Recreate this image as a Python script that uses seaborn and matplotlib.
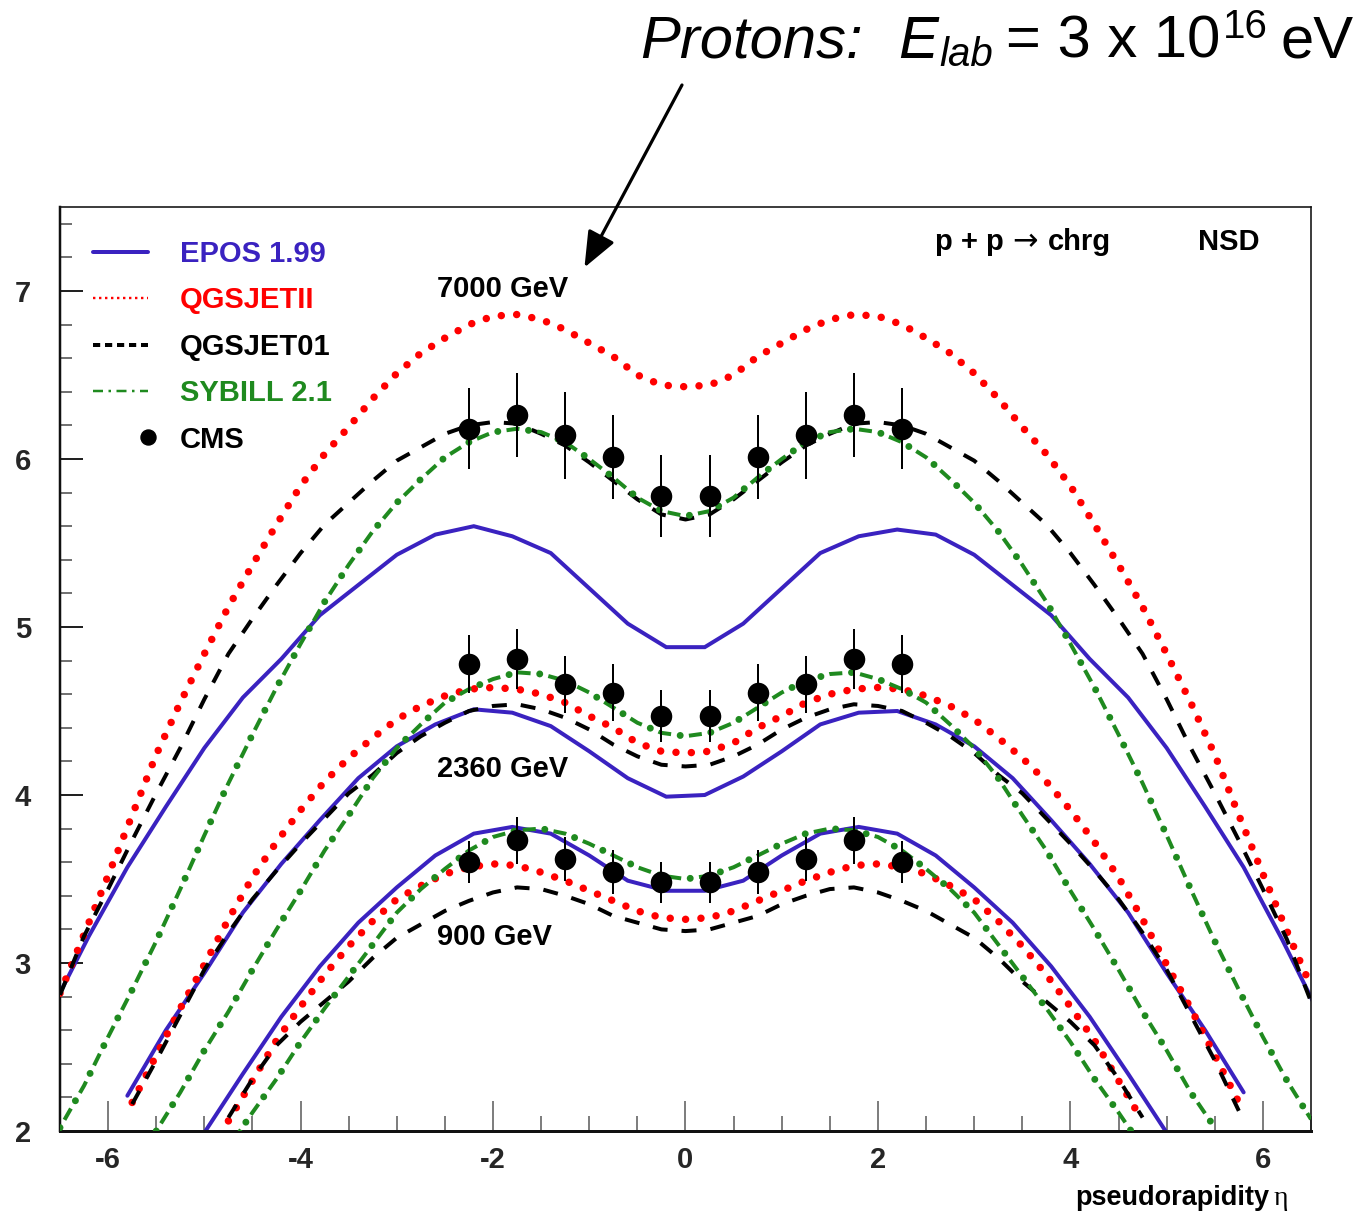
import matplotlib
matplotlib.use("Agg")
import matplotlib.pyplot as plt
from matplotlib.lines import Line2D
from matplotlib.ticker import MultipleLocator, FixedLocator
import seaborn as sns

# ---------------- data ----------------
ETA_7000 = [-6.5, -6.25, -6.0, -5.75, -5.5, -5.25, -5.0, -4.75, -4.5, -4.25, -4.0, -3.75, -3.5,
            -3.25, -3.0, -2.75, -2.5, -2.25, -2.0, -1.75, -1.5, -1.25, -1.0, -0.75, -0.5, -0.25,
            0.0, 0.25, 0.5, 0.75, 1.0, 1.25, 1.5, 1.75, 2.0, 2.25, 2.5, 2.75, 3.0, 3.25, 3.5,
            3.75, 4.0, 4.25, 4.5, 4.75, 5.0, 5.25, 5.5, 5.75, 6.0, 6.25, 6.5]
QGSJETII_7000 = [2.82, 3.17, 3.52, 3.88, 4.24, 4.55, 4.84, 5.12, 5.37, 5.61, 5.84, 6.03, 6.19,
                 6.36, 6.51, 6.63, 6.72, 6.80, 6.85, 6.86, 6.83, 6.77, 6.69, 6.61, 6.50, 6.44,
                 6.43, 6.44, 6.50, 6.61, 6.69, 6.77, 6.83, 6.86, 6.85, 6.80, 6.72, 6.63, 6.51,
                 6.36, 6.19, 6.03, 5.84, 5.61, 5.37, 5.12, 4.84, 4.55, 4.24, 3.88, 3.53, 3.19, 2.86]
QGSJET01_7000 = [2.81, 3.16, 3.44, 3.73, 4.01, 4.28, 4.57, 4.84, 5.05, 5.25, 5.44, 5.61, 5.74,
                 5.87, 5.99, 6.07, 6.15, 6.20, 6.22, 6.21, 6.15, 6.08, 5.98, 5.87, 5.76, 5.67,
                 5.64, 5.67, 5.76, 5.87, 5.98, 6.08, 6.15, 6.21, 6.22, 6.20, 6.15, 6.07, 5.99,
                 5.87, 5.74, 5.61, 5.44, 5.25, 5.05, 4.84, 4.57, 4.28, 4.01, 3.73, 3.44, 3.14, 2.77]
SYBILL_7000 = [2.02, 2.27, 2.56, 2.84, 3.13, 3.44, 3.76, 4.07, 4.36, 4.64, 4.90, 5.15, 5.37,
               5.57, 5.74, 5.88, 6.01, 6.10, 6.16, 6.18, 6.16, 6.10, 6.00, 5.89, 5.77, 5.69,
               5.66, 5.69, 5.77, 5.89, 6.00, 6.10, 6.16, 6.18, 6.16, 6.10, 6.01, 5.88, 5.74,
               5.57, 5.37, 5.15, 4.90, 4.64, 4.36, 4.07, 3.76, 3.44, 3.13, 2.84, 2.56, 2.30, 2.07]
ETA_EPOS_7000 = [-6.6, -6.2, -5.8, -5.4, -5.0, -4.6, -4.2, -3.8, -3.4, -3.0, -2.6, -2.2, -1.8,
                 -1.4, -1.0, -0.6, -0.2, 0.2, 0.6, 1.0, 1.4, 1.8, 2.2, 2.6, 3.0, 3.4, 3.8, 4.2,
                 4.6, 5.0, 5.4, 5.8, 6.2, 6.6]
EPOS_7000 = [2.71, 3.16, 3.57, 3.93, 4.28, 4.58, 4.81, 5.07, 5.25, 5.43, 5.55, 5.60, 5.54,
             5.44, 5.23, 5.02, 4.88, 4.88, 5.02, 5.23, 5.44, 5.54, 5.58, 5.55, 5.43, 5.25,
             5.07, 4.81, 4.58, 4.28, 3.93, 3.57, 3.14, 2.68]

ETA_2360 = [-5.75, -5.5, -5.25, -5.0, -4.75, -4.5, -4.25, -4.0, -3.75, -3.5, -3.25, -3.0, -2.75,
            -2.5, -2.25, -2.0, -1.75, -1.5, -1.25, -1.0, -0.75, -0.5, -0.25, 0.0, 0.25, 0.5,
            0.75, 1.0, 1.25, 1.5, 1.75, 2.0, 2.25, 2.5, 2.75, 3.0, 3.25, 3.5, 3.75, 4.0, 4.25,
            4.5, 4.75, 5.0, 5.25, 5.5, 5.75]
QGSJETII_2360 = [2.17, 2.45, 2.73, 2.99, 3.26, 3.51, 3.72, 3.91, 4.08, 4.22, 4.34, 4.45, 4.53,
                 4.59, 4.63, 4.64, 4.63, 4.60, 4.55, 4.47, 4.40, 4.31, 4.26, 4.25, 4.26, 4.31,
                 4.40, 4.47, 4.55, 4.60, 4.63, 4.64, 4.63, 4.59, 4.53, 4.45, 4.34, 4.22, 4.08,
                 3.91, 3.72, 3.51, 3.26, 2.99, 2.73, 2.45, 2.17]
QGSJET01_2360 = [2.16, 2.42, 2.69, 2.96, 3.18, 3.38, 3.55, 3.71, 3.86, 4.01, 4.12, 4.25, 4.35,
                 4.43, 4.50, 4.53, 4.54, 4.51, 4.46, 4.39, 4.30, 4.23, 4.18, 4.17, 4.18, 4.23,
                 4.30, 4.39, 4.46, 4.51, 4.54, 4.53, 4.50, 4.43, 4.35, 4.25, 4.12, 4.01, 3.86,
                 3.71, 3.55, 3.38, 3.18, 2.96, 2.69, 2.42, 2.12]
ETA_SYBILL_2360 = [-5.5, -5.25, -5.0, -4.75, -4.5, -4.25, -4.0, -3.75, -3.5, -3.25, -3.0, -2.75,
                   -2.5, -2.25, -2.0, -1.75, -1.5, -1.25, -1.0, -0.75, -0.5, -0.25, 0.0, 0.25,
                   0.5, 0.75, 1.0, 1.25, 1.5, 1.75, 2.0, 2.25, 2.5, 2.75, 3.0, 3.25, 3.5, 3.75,
                   4.0, 4.25, 4.5, 4.75, 5.0, 5.25, 5.5]
SYBILL_2360 = [2.00, 2.23, 2.48, 2.71, 2.96, 3.20, 3.43, 3.67, 3.88, 4.10, 4.28, 4.42, 4.55,
               4.63, 4.69, 4.73, 4.72, 4.68, 4.61, 4.52, 4.43, 4.37, 4.35, 4.37, 4.43, 4.52,
               4.61, 4.68, 4.72, 4.73, 4.69, 4.63, 4.55, 4.42, 4.28, 4.10, 3.88, 3.67, 3.43,
               3.20, 2.96, 2.71, 2.48, 2.23, 2.02]
ETA_EPOS_2360 = [-5.8, -5.4, -5.0, -4.6, -4.2, -3.8, -3.4, -3.0, -2.6, -2.2, -1.8, -1.4, -1.0,
                 -0.6, -0.2, 0.2, 0.6, 1.0, 1.4, 1.8, 2.2, 2.6, 3.0, 3.4, 3.8, 4.2, 4.6, 5.0,
                 5.4, 5.8]
EPOS_2360 = [2.21, 2.60, 2.94, 3.30, 3.59, 3.85, 4.10, 4.29, 4.42, 4.51, 4.49, 4.41, 4.26,
             4.10, 3.99, 4.00, 4.11, 4.26, 4.42, 4.49, 4.50, 4.42, 4.29, 4.10, 3.85, 3.59,
             3.30, 2.94, 2.60, 2.23]

ETA_900 = [-4.75, -4.5, -4.25, -4.0, -3.75, -3.5, -3.25, -3.0, -2.75, -2.5, -2.25, -2.0, -1.75,
           -1.5, -1.25, -1.0, -0.75, -0.5, -0.25, 0.0, 0.25, 0.5, 0.75, 1.0, 1.25, 1.5, 1.75,
           2.0, 2.25, 2.5, 2.75, 3.0, 3.25, 3.5, 3.75, 4.0, 4.25, 4.5, 4.75]
QGSJETII_900 = [2.06, 2.30, 2.54, 2.74, 2.93, 3.10, 3.25, 3.38, 3.46, 3.53, 3.57, 3.59, 3.58,
                3.54, 3.49, 3.43, 3.37, 3.31, 3.27, 3.26, 3.27, 3.31, 3.37, 3.43, 3.49, 3.54,
                3.58, 3.59, 3.57, 3.53, 3.46, 3.38, 3.25, 3.10, 2.93, 2.74, 2.54, 2.30, 2.06]
QGSJET01_900 = [2.08, 2.31, 2.51, 2.65, 2.77, 2.89, 3.03, 3.15, 3.23, 3.31, 3.37, 3.42, 3.45,
                3.44, 3.40, 3.35, 3.28, 3.24, 3.20, 3.19, 3.20, 3.24, 3.28, 3.35, 3.40, 3.44,
                3.45, 3.42, 3.37, 3.31, 3.23, 3.15, 3.03, 2.89, 2.77, 2.65, 2.51, 2.31, 2.08]
SYBILL_900 = [1.90, 2.11, 2.31, 2.53, 2.73, 2.92, 3.11, 3.30, 3.44, 3.56, 3.67, 3.75, 3.79,
              3.80, 3.77, 3.71, 3.64, 3.57, 3.52, 3.50, 3.52, 3.57, 3.64, 3.71, 3.77, 3.80,
              3.79, 3.75, 3.67, 3.56, 3.44, 3.30, 3.11, 2.92, 2.73, 2.53, 2.31, 2.11, 1.90]
ETA_EPOS_900 = [-5.0, -4.6, -4.2, -3.8, -3.4, -3.0, -2.6, -2.2, -1.8, -1.4, -1.0, -0.6, -0.2,
                0.2, 0.6, 1.0, 1.4, 1.8, 2.2, 2.6, 3.0, 3.4, 3.8, 4.2, 4.6, 5.0]
EPOS_900 = [1.99, 2.34, 2.68, 2.98, 3.24, 3.45, 3.64, 3.77, 3.81, 3.77, 3.64, 3.49, 3.43,
            3.43, 3.49, 3.64, 3.77, 3.81, 3.77, 3.64, 3.45, 3.24, 2.98, 2.68, 2.34, 1.99]

CMS_ETA = [-2.25, -1.75, -1.25, -0.75, -0.25, 0.25, 0.75, 1.25, 1.75, 2.25]
CMS_7000 = [6.18, 6.26, 6.14, 6.01, 5.78, 5.78, 6.01, 6.14, 6.26, 6.18]
CMS_7000_ERR = [0.24, 0.25, 0.26, 0.25, 0.245, 0.245, 0.25, 0.26, 0.25, 0.24]
CMS_2360 = [4.78, 4.81, 4.66, 4.61, 4.47, 4.47, 4.61, 4.66, 4.81, 4.78]
CMS_2360_ERR = [0.17, 0.18, 0.17, 0.17, 0.155, 0.155, 0.17, 0.17, 0.18, 0.17]
CMS_900 = [3.60, 3.73, 3.62, 3.54, 3.48, 3.48, 3.54, 3.62, 3.73, 3.60]
CMS_900_ERR = [0.125, 0.14, 0.13, 0.13, 0.12, 0.12, 0.13, 0.13, 0.14, 0.125]

MODEL_NAMES = ["EPOS 1.99", "QGSJETII", "QGSJET01", "SYBILL 2.1", "CMS"]
ENERGY_LABELS = ["7000 GeV", "2360 GeV", "900 GeV"]
X_TICKS = [-6, -4, -2, 0, 2, 4, 6]
Y_TICKS = [2, 3, 4, 5, 6, 7]

# ---------------- style ----------------
BLUE = "#3a22c0"
RED = "#ff0000"
GREEN = "#1f8a1f"
BLACK = "#000000"

sns.set_theme(style="white")
plt.rcParams["font.family"] = ["Liberation Sans", "DejaVu Sans"]
plt.rcParams["axes.unicode_minus"] = False

DPI = 100
W, H = 1358, 1213
fig = plt.figure(figsize=(W / DPI, H / DPI), dpi=DPI)
L, R, T, B = 60, 1311, 207, 1131
ax = fig.add_axes([L / W, 1 - B / H, (R - L) / W, (B - T) / H])

PX = 0.72  # points per pixel at 100 dpi


def draw(x, y, kind, z):
    if kind == "epos":
        sns.lineplot(x=x, y=y, ax=ax, color=BLUE, linewidth=4 * PX, sort=False,
                     estimator=None, legend=False, zorder=z)
        ax.lines[-1].set_solid_joinstyle("miter")
    elif kind == "qgs2":
        lw = 7.5
        sns.lineplot(x=x, y=y, ax=ax, color=RED, linewidth=lw * PX, sort=False,
                     estimator=None, legend=False, zorder=z)
        ln = ax.lines[-1]
        ln.set_linestyle((0, (0.001, 15.4 / lw)))
        ln.set_dash_capstyle("round")
    elif kind == "qgs1":
        lw = 4.0
        sns.lineplot(x=x, y=y, ax=ax, color=BLACK, linewidth=lw * PX, sort=False,
                     estimator=None, legend=False, zorder=z)
        ln = ax.lines[-1]
        ln.set_linestyle((0, (15.0 / lw, 14.0 / lw)))
        ln.set_dash_capstyle("butt")
    elif kind == "syb":
        lw = 4.0
        sns.lineplot(x=x, y=y, ax=ax, color=GREEN, linewidth=lw * PX, sort=False,
                     estimator=None, legend=False, zorder=z)
        ln = ax.lines[-1]
        ln.set_linestyle(((31.0 - 9.0) / lw, (13.0 / lw, 18.0 / lw)))
        ln.set_dash_capstyle("butt")
        lwd = 7.0
        sns.lineplot(x=x, y=y, ax=ax, color=GREEN, linewidth=lwd * PX, sort=False,
                     estimator=None, legend=False, zorder=z)
        ln = ax.lines[-1]
        ln.set_linestyle((0, (0.001, 31.0 / lwd)))
        ln.set_dash_capstyle("round")


for ex, ey in [(ETA_EPOS_7000, EPOS_7000), (ETA_EPOS_2360, EPOS_2360), (ETA_EPOS_900, EPOS_900)]:
    draw(ex, ey, "epos", 2)
for ex, ey in [(ETA_7000, QGSJETII_7000), (ETA_2360, QGSJETII_2360), (ETA_900, QGSJETII_900)]:
    draw(ex, ey, "qgs2", 3)
for ex, ey in [(ETA_7000, QGSJET01_7000), (ETA_2360, QGSJET01_2360), (ETA_900, QGSJET01_900)]:
    draw(ex, ey, "qgs1", 4)
for ex, ey in [(ETA_7000, SYBILL_7000), (ETA_SYBILL_2360, SYBILL_2360), (ETA_900, SYBILL_900)]:
    draw(ex, ey, "syb", 5)

for cy, ce in [(CMS_7000, CMS_7000_ERR), (CMS_2360, CMS_2360_ERR), (CMS_900, CMS_900_ERR)]:
    ax.errorbar(CMS_ETA, cy, yerr=ce, fmt="none", ecolor=BLACK, elinewidth=2 * PX,
                capsize=0, zorder=6)
    sns.scatterplot(x=CMS_ETA, y=cy, ax=ax, color=BLACK, s=(15.5) ** 2, linewidth=0,
                    legend=False, zorder=7)

# ---------------- axes ----------------
ax.set_xlim(-6.5, 6.5)
ax.set_ylim(2, 7.5)
ax.xaxis.set_major_locator(FixedLocator(X_TICKS))
ax.yaxis.set_major_locator(FixedLocator(Y_TICKS))
ax.xaxis.set_minor_locator(MultipleLocator(0.5))
ax.yaxis.set_minor_locator(MultipleLocator(0.2))
ax.set_xticklabels([str(t) for t in X_TICKS])
ax.set_yticklabels([str(t) for t in Y_TICKS])
ax.tick_params(axis="x", which="major", direction="in", length=30 * PX, width=1.5 * PX,
               color="#555555", pad=11, labelsize=21, bottom=True, top=False)
ax.tick_params(axis="x", which="minor", direction="in", length=15 * PX, width=1.5 * PX,
               color="#555555", bottom=True, top=False)
ax.tick_params(axis="y", which="major", direction="in", length=23 * PX, width=2 * PX,
               color="#222222", pad=21, labelsize=21, left=True, right=False)
ax.tick_params(axis="y", which="minor", direction="in", length=12 * PX, width=1.5 * PX,
               color="#444444", left=True, right=False)
for lab in ax.get_xticklabels() + ax.get_yticklabels():
    lab.set_fontweight("bold")
for side, w in [("left", 2.5), ("bottom", 3.0), ("top", 1.6), ("right", 1.6)]:
    ax.spines[side].set_linewidth(w * PX)
    ax.spines[side].set_color("#111111")
ax.set_xlabel("")
ax.set_ylabel("")

renderer = fig.canvas.get_renderer()


def chain(x_px, base_px, s, **kw):
    """Place a text piece with its left edge at x_px (figure pixels from the left,
    baseline base_px from the top); return the right edge in pixels."""
    t = fig.text(x_px / W, 1 - base_px / H, s, ha="left", va="baseline", **kw)
    return t.get_window_extent(renderer).x1


# ---------------- texts ----------------
TXT = dict(fontsize=21, fontweight="bold", color=BLACK)
ax.text(-2.585, 7.01, ENERGY_LABELS[0], ha="left", va="center", zorder=8, **TXT)
ax.text(-2.585, 4.155, ENERGY_LABELS[1], ha="left", va="center", zorder=8, **TXT)
ax.text(-2.585, 3.155, ENERGY_LABELS[2], ha="left", va="center", zorder=8, **TXT)

xe = chain(935, 250, "p + p", **TXT)
xe = chain(xe + 9, 250, "\u2192", fontsize=22, color=BLACK, family=["DejaVu Sans"])
chain(xe + 10, 250, "chrg", **TXT)
chain(1198, 250, "NSD", **TXT)

xe = chain(1075, 1205, "pseudorapidity", fontsize=19.5, fontweight="bold", color=BLACK)
chain(xe + 4, 1205, "\u03b7", fontsize=20, color=BLACK,
      family=["Liberation Serif", "DejaVu Serif"])

# Title: "Protons:  E_lab = 3 x 10^16 eV"
BIG, SMALL = 43, 29
xe = chain(640, 58, "Protons:", fontsize=BIG, style="italic", color=BLACK)
xe = chain(xe + 36, 58, "E", fontsize=BIG, style="italic", color=BLACK)
xe = chain(xe + 1, 66, "lab", fontsize=SMALL, style="italic", color=BLACK)
xe = chain(xe + 13, 58, "= 3 x 10", fontsize=BIG, color=BLACK)
xe = chain(xe + 2, 38, "16", fontsize=SMALL, color=BLACK)
chain(xe + 13, 58, "eV", fontsize=BIG, color=BLACK)

ax.annotate("", xy=(-1.05, 7.14), xycoords="data",
            xytext=(682 / W, 1 - 85 / H), textcoords="figure fraction",
            arrowprops=dict(arrowstyle="-|>,head_length=1.1,head_width=0.45",
                            lw=3.2 * PX, color=BLACK, mutation_scale=20,
                            shrinkA=0, shrinkB=0),
            annotation_clip=False)

# ---------------- legend ----------------
handles = [
    Line2D([], [], color=BLUE, lw=4 * PX),
    Line2D([], [], color=RED, lw=2.4 * PX, linestyle=(0, (1.0, 1.5))),
    Line2D([], [], color=BLACK, lw=4 * PX, linestyle=(0, (1.8, 1.2))),
    Line2D([], [], color=GREEN, lw=2.5 * PX, linestyle=(0, (4.0, 2.2, 1.0, 2.2))),
    Line2D([], [], color=BLACK, marker="o", markersize=15 * PX, linestyle="none"),
]
FS = 21.0
pad_pt = 0.3 * FS  # marker pad used by the line handler at each end
hl_pt = 55 * PX + 2 * pad_pt
leg_left_px = 93 - pad_pt / PX
txt_pad_pt = (180 - (leg_left_px + hl_pt / PX)) * PX
leg = ax.legend(handles, MODEL_NAMES, loc="upper left",
                bbox_to_anchor=((leg_left_px - L) / (R - L), 1 - 33 / (B - T)),
                frameon=False, prop={"weight": "bold", "size": FS},
                handlelength=hl_pt / FS, handletextpad=txt_pad_pt / FS, labelspacing=0.63,
                borderpad=0, borderaxespad=0, numpoints=2,
                labelcolor=[BLUE, RED, BLACK, GREEN, BLACK])
leg.legend_handles[4].set_markevery([1])

fig.savefig("out.png", dpi=DPI)
